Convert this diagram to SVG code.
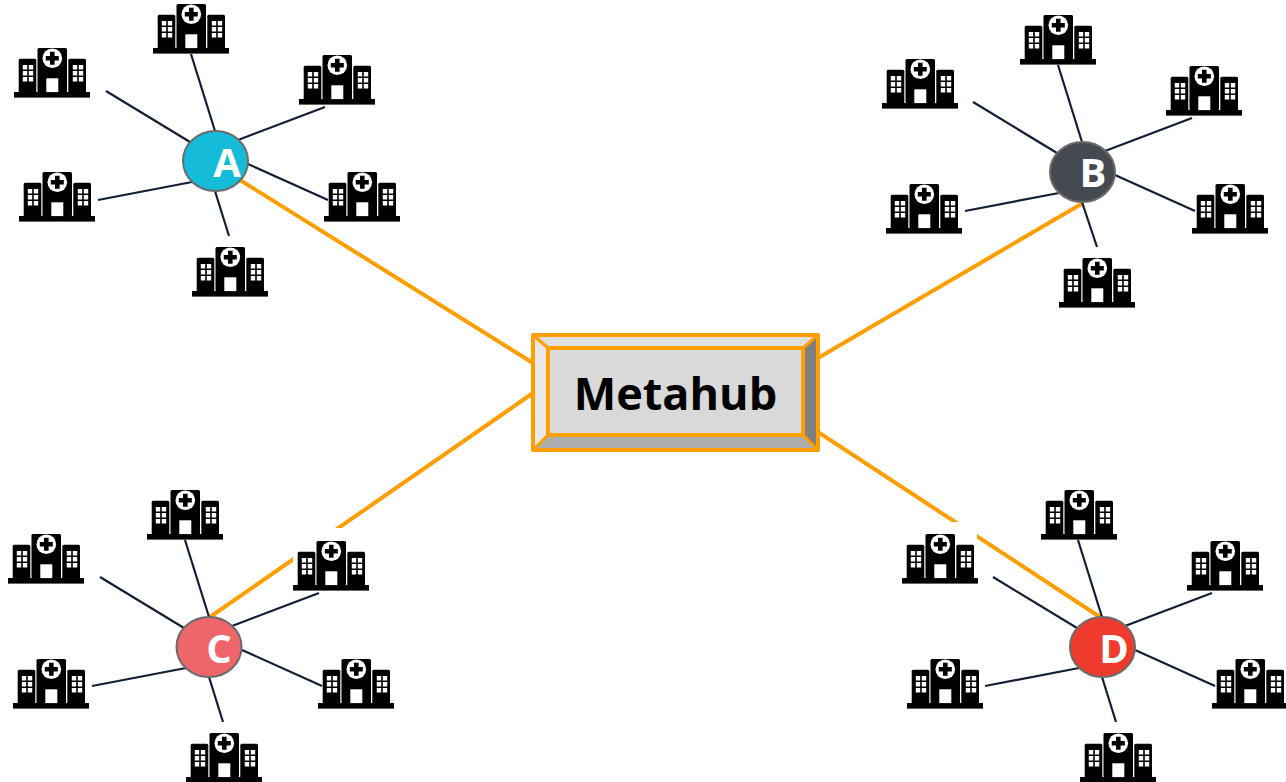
<svg xmlns="http://www.w3.org/2000/svg" xmlns:xlink="http://www.w3.org/1999/xlink" width="1286" height="782" viewBox="0 0 1286 782">
<style>
.spoke{stroke:#111e35;stroke-width:2.2;fill:none}
.trunk{stroke:#ff9e00;stroke-width:4;fill:none}
.hub{stroke:#6b6b6b;stroke-width:2}
.hub-label{font-family:"Open Sans","Liberation Sans",sans-serif;font-weight:700;font-size:40px;fill:#fff;text-anchor:middle}
.box-line{stroke:#ff9e00;stroke-width:4;fill:none;stroke-linejoin:round}
.box-corner{stroke:#ff9e00;stroke-width:3;fill:none}
.title{font-family:"Open Sans","Liberation Sans",sans-serif;font-weight:700;font-size:45px;fill:#000;text-anchor:middle}
</style>
<defs>
<g id="hospital">
<rect x="0" y="44" width="76" height="5.600" fill="#000"/>
<rect x="4.700" y="10.700" width="17.600" height="34" rx="1.500" fill="#000"/>
<rect x="54.300" y="10.700" width="17.700" height="34" rx="1.500" fill="#000"/>
<rect x="23.500" y="0" width="29.500" height="44.500" rx="1.500" fill="#000"/>
<circle cx="38.300" cy="10.300" r="9.800" fill="#fff"/>
<path d="M36 3.800h4.600v4.200h4.200v4.600h-4.200v4.200h-4.600v-4.200h-4.200v-4.600h4.200z" fill="#000"/>
<rect x="32.300" y="30.300" width="12" height="13.800" fill="#fff"/>
<path fill="#fff" d="M8.800 17h4.400v4.400H8.800zM14.800 17h4.400v4.400h-4.400zM8.800 23h4.400v4.400H8.800zM14.800 23h4.400v4.400h-4.400zM8.800 29h4.400v4.400H8.800zM14.800 29h4.400v4.400h-4.400zM58.800 17h4.400v4.400h-4.400zM64.800 17h4.400v4.400h-4.400zM58.800 23h4.400v4.400h-4.400zM64.800 23h4.400v4.400h-4.400zM58.800 29h4.400v4.400h-4.400zM64.800 29h4.400v4.400h-4.400z"/>
</g>
</defs>
<rect width="1286" height="782" fill="#fff"/>
<g id="connectors">
<path class="trunk" d="M240 180L533 363M1083 203L818 358M210 617L533 393M1100 617L818 432"/>
<path class="spoke" d="M191 54L215 131M106 91L190 142M325 107L238 140M248 164L328 200M98 200L192 182M215 191L229 236"/>
<path class="spoke" d="M1058 65L1082 142M973 102L1057 153M1192 118L1105 151M1115 175L1195 211M965 211L1059 193M1082 202L1097 247"/>
<path class="spoke" d="M185 540L209 617M100 577L184 628M319 593L232 626M242 650L322 686M92 686L186 668M209 677L223 722"/>
<path class="spoke" d="M1078 540L1102 617M993 577L1077 628M1212 593L1125 626M1135 650L1215 686M985 686L1079 668M1102 677L1116 722"/>
</g>
<rect x="293" y="528" width="76" height="62" fill="#fff"/>
<rect x="902" y="522" width="75" height="62" fill="#fff"/>
<g id="metahub">
<rect x="533" y="335" width="285" height="115" fill="#d9d9d9"/>
<path d="M533 335H818L803 348H548Z" fill="#e0e0e0"/>
<path d="M533 335L548 348V435L533 450Z" fill="#e8e8e8"/>
<path d="M818 335V450L803 435V348Z" fill="#808080"/>
<path d="M533 450L548 435H803L818 450Z" fill="#adadad"/>
<rect class="box-line" x="533" y="335" width="285" height="115"/>
<rect class="box-line" x="548" y="348" width="255" height="87"/>
<path class="box-corner" d="M533 335L548 348M818 335L803 348M533 450L548 435M818 450L803 435"/>
<text class="title" x="675.500" y="410">Metahub</text>
</g>
<g id="hub-a"><ellipse class="hub" cx="215.500" cy="161" rx="32.500" ry="30" fill="#14bcd9"/><text class="hub-label" x="227" y="177">A</text></g>
<g id="hub-b"><ellipse class="hub" cx="1082.500" cy="172" rx="32.500" ry="30" fill="#454a52"/><text class="hub-label" x="1093" y="187">B</text></g>
<g id="hub-c"><ellipse class="hub" cx="209" cy="647" rx="32.500" ry="30" fill="#ef666a"/><text class="hub-label" x="219" y="663">C</text></g>
<g id="hub-d"><ellipse class="hub" cx="1102.500" cy="647" rx="32.500" ry="30" fill="#ee3b2d"/><text class="hub-label" x="1114" y="663">D</text></g>
<g id="a1"><use xlink:href="#hospital" href="#hospital" x="153" y="4"/></g>
<g id="a2"><use xlink:href="#hospital" href="#hospital" x="14" y="48"/></g>
<g id="a3"><use xlink:href="#hospital" href="#hospital" x="299" y="55"/></g>
<g id="a4"><use xlink:href="#hospital" href="#hospital" x="324" y="172"/></g>
<g id="a5"><use xlink:href="#hospital" href="#hospital" x="19" y="172"/></g>
<g id="a6"><use xlink:href="#hospital" href="#hospital" x="192" y="247"/></g>
<g id="b1"><use xlink:href="#hospital" href="#hospital" x="1020" y="15"/></g>
<g id="b2"><use xlink:href="#hospital" href="#hospital" x="882" y="59"/></g>
<g id="b3"><use xlink:href="#hospital" href="#hospital" x="1166" y="66"/></g>
<g id="b4"><use xlink:href="#hospital" href="#hospital" x="1192" y="184"/></g>
<g id="b5"><use xlink:href="#hospital" href="#hospital" x="886" y="184"/></g>
<g id="b6"><use xlink:href="#hospital" href="#hospital" x="1059" y="258"/></g>
<g id="c1"><use xlink:href="#hospital" href="#hospital" x="147" y="490"/></g>
<g id="c2"><use xlink:href="#hospital" href="#hospital" x="8" y="534"/></g>
<g id="c3"><use xlink:href="#hospital" href="#hospital" x="293" y="541"/></g>
<g id="c4"><use xlink:href="#hospital" href="#hospital" x="318" y="659"/></g>
<g id="c5"><use xlink:href="#hospital" href="#hospital" x="13" y="659"/></g>
<g id="c6"><use xlink:href="#hospital" href="#hospital" x="186" y="733"/></g>
<g id="d1"><use xlink:href="#hospital" href="#hospital" x="1041" y="490"/></g>
<g id="d2"><use xlink:href="#hospital" href="#hospital" x="902" y="534"/></g>
<g id="d3"><use xlink:href="#hospital" href="#hospital" x="1187" y="541"/></g>
<g id="d4"><use xlink:href="#hospital" href="#hospital" x="1212" y="659"/></g>
<g id="d5"><use xlink:href="#hospital" href="#hospital" x="907" y="659"/></g>
<g id="d6"><use xlink:href="#hospital" href="#hospital" x="1080" y="733"/></g>
</svg>
